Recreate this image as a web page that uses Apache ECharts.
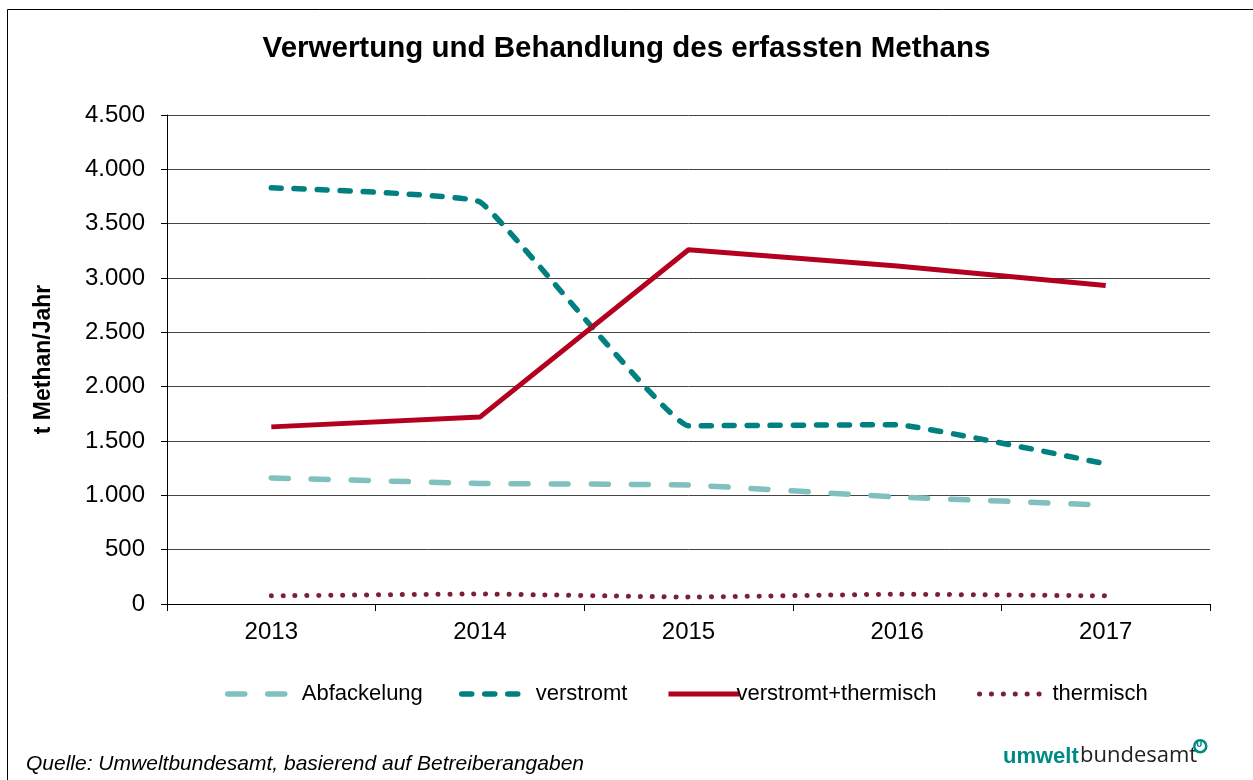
<!DOCTYPE html>
<html>
<head>
<meta charset="utf-8">
<script src="https://cdn.jsdelivr.net/npm/echarts@6/dist/echarts.min.js"></script>
<style>
  html, body { margin: 0; padding: 0; background: #fff; }
  #chart { width: 1253px; height: 780px; }
</style>
</head>
<body>
<div id="chart"></div>
<script>
// Verwertung und Behandlung des erfassten Methans (t Methan/Jahr)
const years = ['2013', '2014', '2015', '2016', '2017'];
const abfackelung = [1160, 1110, 1095, 985, 910];
const verstromt = [3830, 3700, 1640, 1650, 1290];
const verstromtThermisch = [1630, 1720, 3260, 3110, 2930];
const thermisch = [75, 92, 64, 90, 75];
const yTicks = [0, 500, 1000, 1500, 2000, 2500, 3000, 3500, 4000, 4500];

const FONT = '"Liberation Sans", Arial, sans-serif';
const fmt = v => String(v).replace(/\B(?=(\d{3})+(?!\d))/g, '.');

const chart = echarts.init(document.getElementById('chart'));

// one legend per series so each sample/text sits where the original has it
const legendFor = (name, left, width, gap, lw) => ({
  data: [name],
  left: left,
  top: 683,
  padding: 0,
  itemWidth: width,
  itemHeight: 14,
  itemGap: 0,
  itemStyle: { opacity: 0 },
  lineStyle: { width: lw },
  textStyle: { fontFamily: FONT, fontSize: 22, color: '#000', padding: [0, 0, 0, gap] },
  selectedMode: false
});

chart.setOption({
  backgroundColor: '#fff',
  animation: false,
  title: {
    text: 'Verwertung und Behandlung des erfassten Methans',
    left: 'center',
    top: 29,
    textStyle: { fontFamily: FONT, fontSize: 29.5, fontWeight: 'bold', color: '#000' }
  },
  legend: [
    legendFor('Abfackelung', 225, 61, 8, 5.5),
    legendFor('verstromt', 459, 63, 6, 5.5),
    legendFor('verstromt+thermisch', 666, 71, -8, 5),
    legendFor('thermisch', 977, 64, 4, 5)
  ],
  grid: { left: 167, right: 43, top: 115, bottom: 176 },
  xAxis: {
    type: 'category',
    data: years,
    boundaryGap: true,
    axisLine: { lineStyle: { color: '#000', width: 1 } },
    axisTick: { show: true, length: 7, lineStyle: { color: '#000' } },
    axisLabel: { fontFamily: FONT, fontSize: 24, color: '#000', margin: 16 }
  },
  yAxis: {
    type: 'value',
    min: yTicks[0],
    max: yTicks[yTicks.length - 1],
    interval: 500,
    name: 't Methan/Jahr',
    nameLocation: 'middle',
    nameGap: 112,
    nameRotate: 90,
    nameTextStyle: { fontFamily: FONT, fontSize: 23, fontWeight: 'bold', color: '#000' },
    axisLine: { show: true, lineStyle: { color: '#000', width: 1 } },
    axisTick: { show: true, length: 6, lineStyle: { color: '#000' } },
    axisLabel: { fontFamily: FONT, fontSize: 24, color: '#000', margin: 22, formatter: fmt },
    splitLine: { lineStyle: { color: '#444', width: 1 } }
  },
  series: [
    {
      name: 'Abfackelung', type: 'line', data: abfackelung, symbol: 'none', smooth: 0.1,
      lineStyle: { color: '#80C1BF', width: 5.5, type: [17, 23], cap: 'round' },
      itemStyle: { color: '#80C1BF' }
    },
    {
      name: 'verstromt', type: 'line', data: verstromt, symbol: 'none', smooth: 0.08,
      lineStyle: { color: '#008080', width: 5.5, type: [10, 13], cap: 'round' },
      itemStyle: { color: '#008080' }
    },
    {
      name: 'verstromt+thermisch', type: 'line', data: verstromtThermisch, symbol: 'none',
      lineStyle: { color: '#B4001F', width: 5 },
      itemStyle: { color: '#B4001F' }
    },
    {
      name: 'thermisch', type: 'line', data: thermisch, symbol: 'none', smooth: 0.1,
      lineStyle: { color: '#7A2136', width: 5, type: [0.1, 11.8], cap: 'round' },
      itemStyle: { color: '#7A2136' }
    }
  ],
  graphic: [
    {
      type: 'rect', silent: true, z: -1,
      shape: { x: 7.5, y: 9.5, width: 1260, height: 800 },
      style: { fill: 'none', stroke: '#000', lineWidth: 1 }
    },
    {
      type: 'text', left: 26, top: 754,
      style: {
        text: 'Quelle: Umweltbundesamt, basierend auf Betreiberangaben',
        font: 'italic 21px "Liberation Sans", Arial, sans-serif', fill: '#000'
      }
    },
    {
      type: 'text', left: 1003, top: 746,
      style: { text: 'umwelt', font: 'bold 22px "Liberation Sans", Arial, sans-serif', fill: '#008A86' }
    },
    {
      type: 'text', left: 1080, top: 745,
      style: { text: 'bundesamt', font: '22px "Open Sans", sans-serif', fill: '#222' }
    },
    {
      type: 'circle', left: 1193, top: 739,
      shape: { r: 6 },
      style: { fill: '#fff', stroke: '#008A86', lineWidth: 2.5 }
    },
    {
      type: 'text', left: 1196, top: 741,
      style: { text: 'U', font: 'bold 8px "DejaVu Sans", sans-serif', fill: '#008A86' }
    }
  ]
});
</script>
</body>
</html>
